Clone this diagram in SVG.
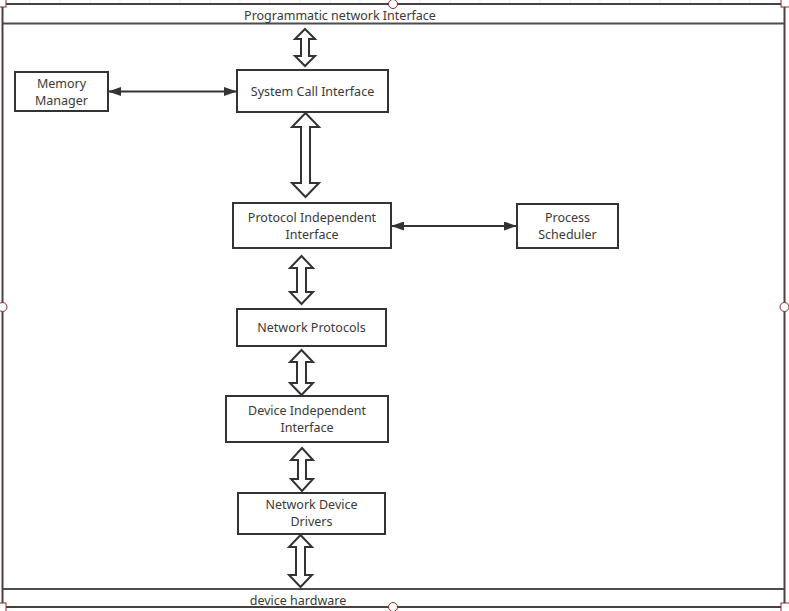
<svg xmlns="http://www.w3.org/2000/svg" width="789" height="611" viewBox="0 0 789 611">
<style>
  .box { fill: #ffffff; stroke: #333333; stroke-width: 2; }
  .lbl { font-family: "Noto Sans", "Open Sans", "Liberation Sans", sans-serif; font-size: 12.5px; fill: #3a3a3a; text-anchor: middle; }
  .frame { fill: none; stroke: #4a4040; stroke-width: 2; }
  .bar { stroke: #4d4d4d; stroke-width: 2; }
  .hollow { fill: #ffffff; stroke: #333333; stroke-width: 2; stroke-linejoin: miter; }
  .line { stroke: #333333; stroke-width: 2; fill: none; }
  .handle { fill: #ffffff; stroke: #8b2c2c; stroke-width: 1; }
  .grid { stroke: #e8e8e8; stroke-width: 1; }
</style>
<defs>
  <marker id="ah" viewBox="0 0 13 9" refX="12" refY="4.5" markerWidth="13" markerHeight="9" markerUnits="userSpaceOnUse" orient="auto-start-reverse">
    <path d="M0,0 L13,4.5 L0,9 Z" fill="#333333"/>
  </marker>
</defs>
<rect x="0" y="0" width="789" height="611" fill="#ffffff"/>
<g id="grid-top">
  <line class="grid" x1="30" y1="0" x2="30" y2="3"/>
  <line class="grid" x1="60" y1="0" x2="60" y2="3"/>
  <line class="grid" x1="90" y1="0" x2="90" y2="3"/>
  <line class="grid" x1="120" y1="0" x2="120" y2="3"/>
  <line class="grid" x1="150" y1="0" x2="150" y2="3"/>
  <line class="grid" x1="180" y1="0" x2="180" y2="3"/>
  <line class="grid" x1="210" y1="0" x2="210" y2="3"/>
  <line class="grid" x1="240" y1="0" x2="240" y2="3"/>
  <line class="grid" x1="270" y1="0" x2="270" y2="3"/>
  <line class="grid" x1="300" y1="0" x2="300" y2="3"/>
  <line class="grid" x1="330" y1="0" x2="330" y2="3"/>
  <line class="grid" x1="360" y1="0" x2="360" y2="3"/>
  <line class="grid" x1="420" y1="0" x2="420" y2="3"/>
  <line class="grid" x1="450" y1="0" x2="450" y2="3"/>
  <line class="grid" x1="480" y1="0" x2="480" y2="3"/>
  <line class="grid" x1="510" y1="0" x2="510" y2="3"/>
  <line class="grid" x1="540" y1="0" x2="540" y2="3"/>
  <line class="grid" x1="570" y1="0" x2="570" y2="3"/>
  <line class="grid" x1="600" y1="0" x2="600" y2="3"/>
  <line class="grid" x1="630" y1="0" x2="630" y2="3"/>
  <line class="grid" x1="660" y1="0" x2="660" y2="3"/>
  <line class="grid" x1="690" y1="0" x2="690" y2="3"/>
  <line class="grid" x1="720" y1="0" x2="720" y2="3"/>
  <line class="grid" x1="750" y1="0" x2="750" y2="3"/>
</g>
<g id="frame">
  <rect class="frame" x="2.5" y="4" width="782" height="603"/>
  <line class="bar" x1="3" y1="23.5" x2="784" y2="23.5"/>
  <line class="bar" x1="3" y1="589" x2="784" y2="589"/>
  <text class="lbl" x="340" y="19.5">Programmatic network Interface</text>
  <text class="lbl" x="298" y="604.5">device hardware</text>
</g>
<g id="memory-manager">
  <rect class="box" x="15" y="72" width="93" height="39"/>
  <text class="lbl" x="61.5" y="87.5">Memory</text>
  <text class="lbl" x="61.5" y="104.5">Manager</text>
</g>
<g id="system-call-interface">
  <rect class="box" x="237" y="70" width="151" height="42"/>
  <text class="lbl" x="312.5" y="95.5">System Call Interface</text>
</g>
<g id="protocol-independent-interface">
  <rect class="box" x="233" y="203" width="158" height="45"/>
  <text class="lbl" x="312" y="221.5">Protocol Independent</text>
  <text class="lbl" x="312" y="238.5">Interface</text>
</g>
<g id="process-scheduler">
  <rect class="box" x="517" y="204" width="101" height="44"/>
  <text class="lbl" x="567.5" y="221.5">Process</text>
  <text class="lbl" x="567.5" y="238.5">Scheduler</text>
</g>
<g id="network-protocols">
  <rect class="box" x="237" y="309" width="149" height="37"/>
  <text class="lbl" x="311.5" y="331.5">Network Protocols</text>
</g>
<g id="device-independent-interface">
  <rect class="box" x="226" y="396" width="162" height="46"/>
  <text class="lbl" x="307" y="414.5">Device Independent</text>
  <text class="lbl" x="307" y="431.5">Interface</text>
</g>
<g id="network-device-drivers">
  <rect class="box" x="238" y="493" width="147" height="41"/>
  <text class="lbl" x="311.5" y="509">Network Device</text>
  <text class="lbl" x="311.5" y="526">Drivers</text>
</g>
<g id="connectors">
  <path class="hollow" d="M305,29 L315,39 L309,39 L309,56 L315,56 L305,66 L295,56 L301,56 L301,39 L295,39 Z"/>
  <path class="hollow" d="M305.5,113 L319,127 L310,127 L310,183 L319,183 L305.5,197 L292,183 L301,183 L301,127 L292,127 Z"/>
  <path class="hollow" d="M301.5,256 L313,268 L306,268 L306,292 L313,292 L301.5,304 L290,292 L297,292 L297,268 L290,268 Z"/>
  <path class="hollow" d="M301.5,350 L313,362 L306,362 L306,383 L313,383 L301.5,395 L290,383 L297,383 L297,362 L290,362 Z"/>
  <path class="hollow" d="M302,448 L313,460 L306,460 L306,479 L313,479 L302,491 L291,479 L298,479 L298,460 L291,460 Z"/>
  <path class="hollow" d="M300.5,535 L312,547 L305,547 L305,575 L312,575 L300.5,587 L289,575 L296,575 L296,547 L289,547 Z"/>
  <line class="line" x1="109" y1="91.5" x2="236" y2="91.5" marker-start="url(#ah)" marker-end="url(#ah)"/>
  <line class="line" x1="392" y1="226" x2="516" y2="226" marker-start="url(#ah)" marker-end="url(#ah)"/>
</g>
<g id="handles">
  <rect class="handle" x="-4" y="-3" width="10" height="10"/>
  <rect class="handle" x="781" y="-3" width="10" height="10"/>
  <rect class="handle" x="-4" y="603" width="10" height="10"/>
  <rect class="handle" x="781" y="603" width="10" height="10"/>
  <circle class="handle" cx="393" cy="4" r="4.5"/>
  <circle class="handle" cx="393" cy="607" r="4.5"/>
  <circle class="handle" cx="2.5" cy="307" r="4.5"/>
  <circle class="handle" cx="784.5" cy="307" r="4.5"/>
</g>
</svg>
